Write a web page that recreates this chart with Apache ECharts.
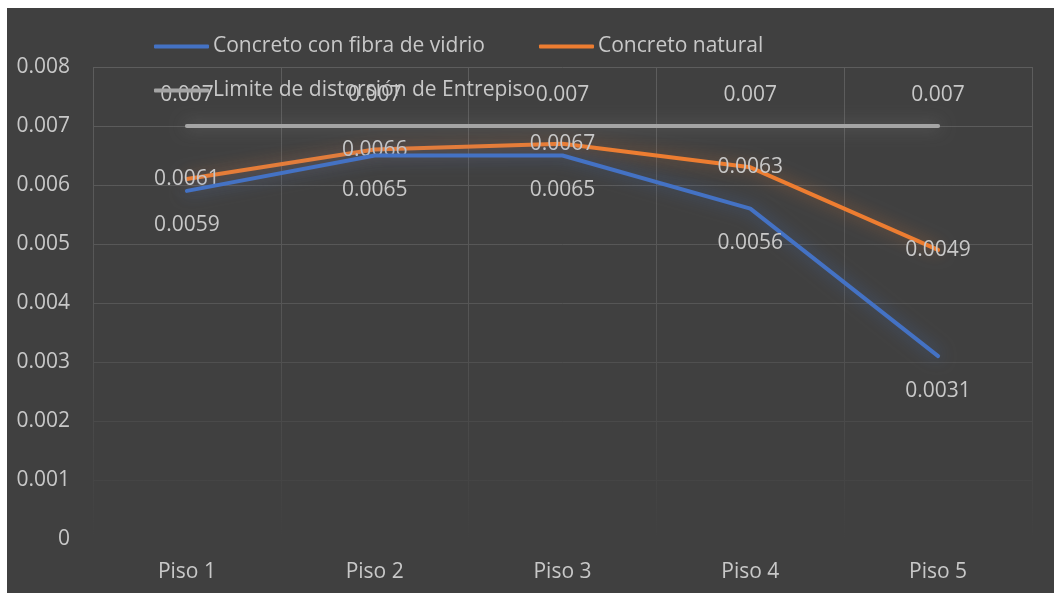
<!DOCTYPE html>
<html>
<head>
<meta charset="utf-8">
<script src="https://cdn.jsdelivr.net/npm/echarts@6/dist/echarts.min.js"></script>
<style>
  html, body { margin: 0; padding: 0; background: #ffffff; }
  #chart { position: absolute; left: 7px; top: 8px; width: 1047px; height: 585px; background: #404040; }
</style>
</head>
<body>
<div id="chart"></div>
<script>
// Inter-storey drift per floor
const categories = ['Piso 1', 'Piso 2', 'Piso 3', 'Piso 4', 'Piso 5'];
const fibraVidrio = [0.0059, 0.0065, 0.0065, 0.0056, 0.0031];
const concretoNatural = [0.0061, 0.0066, 0.0067, 0.0063, 0.0049];
const limiteDistorsion = [0.007, 0.007, 0.007, 0.007, 0.007];
const yTicks = [0, 0.001, 0.002, 0.003, 0.004, 0.005, 0.006, 0.007, 0.008];

const seriesNames = ['Concreto con fibra de vidrio', 'Concreto natural', 'Limite de distorsión de Entrepiso'];
const colors = ['#4472C4', '#ED7D31', '#A5A5A5'];
const glow = ['rgba(68,114,196,0.55)', 'rgba(237,125,49,0.5)', 'rgba(190,190,190,0.35)'];
const txt = '#c8c8c8';
const font = '"Open Sans", "DejaVu Sans", sans-serif';

const GRID = { left: 86, right: 22, top: 59, bottom: 54 };
const H = 585;

// Gridlines fade out towards the bottom of the plot
const gridFade = {
  type: 'linear', global: true,
  x: 0, y: GRID.top, x2: 0, y2: H - GRID.bottom,
  colorStops: [
    { offset: 0, color: '#5d5d5d' },
    { offset: 0.5, color: '#565656' },
    { offset: 0.625, color: '#505050' },
    { offset: 0.75, color: '#4a4a4a' },
    { offset: 0.875, color: '#454545' },
    { offset: 1, color: '#404040' }
  ]
};

const chart = echarts.init(document.getElementById('chart'), null, { renderer: 'canvas' });

function legendAt(name, left, top) {
  return {
    data: [name], left: left, top: top, orient: 'horizontal',
    icon: 'roundRect', itemWidth: 55, itemHeight: 4, itemGap: 0,
    textStyle: { color: txt, fontSize: 21, fontFamily: font, padding: [0, 0, 0, -1] },
    padding: 0
  };
}

function lineSeries(i, data, label) {
  return {
    name: seriesNames[i], type: 'line', data: data,
    symbol: 'circle', symbolSize: 0.1, showSymbol: true,
    itemStyle: { color: colors[i] },
    lineStyle: { color: colors[i], width: 4, shadowBlur: 16, shadowColor: glow[i], cap: 'round', join: 'round' },
    label: Object.assign({ show: true, color: txt, fontSize: 21, fontFamily: font }, label),
    emphasis: { disabled: true },
    z: 3 - i
  };
}

chart.setOption({
  animation: false,
  backgroundColor: '#404040',
  legend: [
    legendAt(seriesNames[0], 147, 28),
    legendAt(seriesNames[1], 532, 28),
    legendAt(seriesNames[2], 147, 72)
  ],
  grid: { left: GRID.left, right: GRID.right, top: GRID.top, bottom: GRID.bottom, containLabel: false },
  xAxis: {
    type: 'category', data: categories, boundaryGap: true,
    axisLine: { show: false }, axisTick: { show: false },
    axisLabel: { color: txt, fontSize: 21, fontFamily: font, margin: 23 },
    splitLine: { show: true, lineStyle: { color: gridFade, width: 1 } }
  },
  yAxis: {
    type: 'value', min: yTicks[0], max: yTicks[yTicks.length - 1], interval: 0.001,
    axisLine: { show: false }, axisTick: { show: false },
    axisLabel: { color: txt, fontSize: 21, fontFamily: font, margin: 23,
      formatter: v => String(parseFloat(v.toFixed(3))) },
    splitLine: { show: true, lineStyle: { color: gridFade, width: 1 } }
  },
  series: [
    lineSeries(0, fibraVidrio, { position: 'bottom', distance: 24 }),
    lineSeries(1, concretoNatural, { position: 'inside' }),
    lineSeries(2, limiteDistorsion, { position: 'top', distance: 20 })
  ]
});
</script>
</body>
</html>
